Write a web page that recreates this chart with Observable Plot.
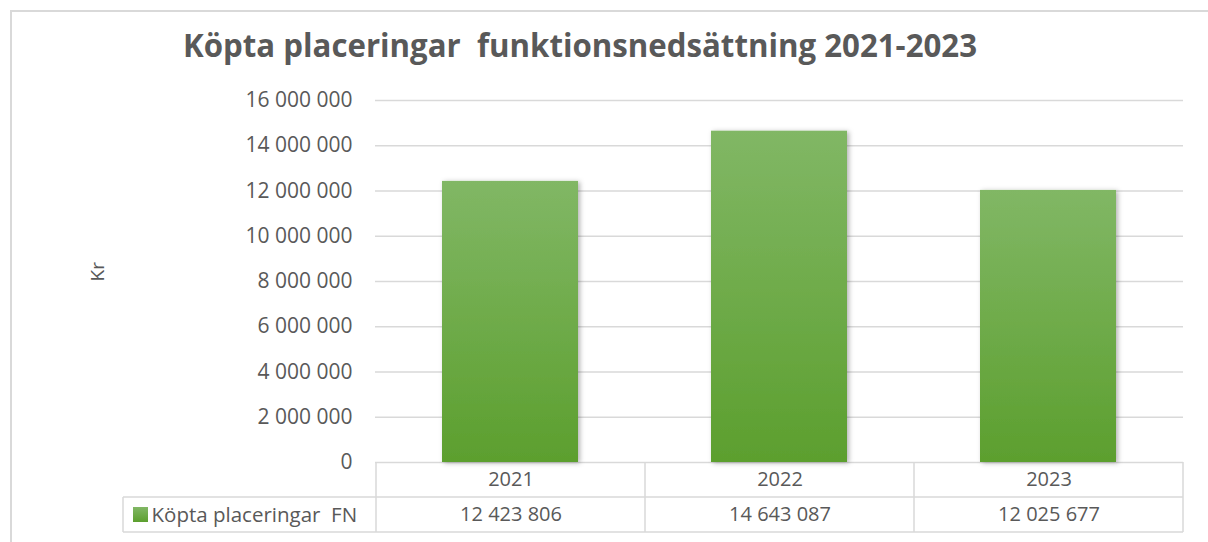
<!DOCTYPE html>
<html>
<head>
<meta charset="utf-8">
<script src="https://cdn.jsdelivr.net/npm/d3@7"></script>
<script src="https://cdn.jsdelivr.net/npm/@observablehq/plot@0.6"></script>
<style>
  html, body { margin: 0; padding: 0; background: #fff; }
  #chart { width: 1208px; height: 542px; overflow: hidden; }
</style>
</head>
<body>
<div id="chart"></div>
<script>
const title = "Köpta placeringar  funktionsnedsättning 2021-2023";
const yLabel = "Kr";
const seriesName = "Köpta placeringar  FN";
const years = ["2021", "2022", "2023"];
const values = [12423806, 14643087, 12025677];
const yTicks = [0, 2000000, 4000000, 6000000, 8000000, 10000000, 12000000, 14000000, 16000000];

const data = years.map((year, i) => ({year, value: values[i]}));
const fmt = d => d3.format(",")(d).replace(/,/g, " ");
const textColor = "#595959";
const lineColor = "#d9d9d9";

const defs = () => {
  const g = d3.create("svg:defs");
  const lg = g.append("linearGradient").attr("id", "barGrad").attr("x1", 0).attr("y1", 0).attr("x2", 0).attr("y2", 1);
  lg.append("stop").attr("offset", "0%").attr("stop-color", "#81b765");
  lg.append("stop").attr("offset", "100%").attr("stop-color", "#5c9f2e");
  const f = g.append("filter").attr("id", "barShadow").attr("x", "-20%").attr("y", "-10%").attr("width", "140%").attr("height", "120%");
  f.append("feDropShadow").attr("dx", 2).attr("dy", 1).attr("stdDeviation", 2.5).attr("flood-color", "#000").attr("flood-opacity", 0.3);
  return g.node();
};

const chart = Plot.plot({
  width: 1208,
  height: 542,
  marginLeft: 375,
  marginRight: 25,
  marginTop: 100,
  marginBottom: 80,
  style: {fontFamily: "'Open Sans', sans-serif", fontSize: "21px", color: textColor, background: "white", overflow: "visible"},
  x: {domain: years, padding: 0, axis: null},
  y: {domain: [0, 16000000], ticks: yTicks, tickFormat: fmt, tickSize: 0, tickPadding: 23, label: null},
  marks: [
    defs,
    Plot.ruleY(yTicks, {stroke: lineColor, strokeWidth: 1.5}),
    Plot.barY(data, {x: "year", y: "value", fill: "url(#barGrad)", insetLeft: 66, insetRight: 67}),
    Plot.text(data, {x: "year", text: "year", frameAnchor: "bottom", dy: 17.5, lineAnchor: "middle", fontSize: 20, fill: textColor}),
    Plot.text(data, {x: "year", text: d => fmt(d.value), frameAnchor: "bottom", dy: 52.5, lineAnchor: "middle", fontSize: 20, fill: textColor}),
    Plot.text([seriesName], {frameAnchor: "bottom-left", dx: -224, dy: 52.5, textAnchor: "start", lineAnchor: "middle", fontSize: 20.5, fill: textColor}),
    Plot.text([yLabel], {frameAnchor: "left", dx: -278, rotate: -90, fontSize: 19, fill: textColor})
  ]
});

document.getElementById("chart").appendChild(chart);

const svg = d3.select(chart);
svg.selectAll("g[aria-label='bar'] rect").attr("filter", "url(#barShadow)");

// outer frame
svg.insert("path", ":first-child")
  .attr("d", "M11,542V11H1208")
  .attr("fill", "none").attr("stroke", lineColor).attr("stroke-width", 2);

// title
svg.append("text")
  .attr("x", 580).attr("y", 57)
  .attr("text-anchor", "middle")
  .attr("font-family", "'Open Sans', sans-serif")
  .attr("font-weight", "bold")
  .attr("font-size", 32)
  .attr("fill", textColor)
  .attr("textLength", 794)
  .attr("lengthAdjust", "spacingAndGlyphs")
  .style("white-space", "pre")
  .text(title);

// data table grid from the x scale
const xs = chart.scale("x");
const [r0, r1] = xs.range;
const step = (r1 - r0) / years.length;
const bandLeft = y => (xs.apply ? xs.apply(y) : r0 + years.indexOf(y) * step);
const edges = years.map(bandLeft).concat([bandLeft(years[years.length - 1]) + (xs.bandwidth ?? step)]);
const rowTop = 462, rowMid = 497, rowBot = 532, tableLeft = 123;
const tg = svg.append("g").attr("stroke", lineColor).attr("stroke-width", 1.5).attr("fill", "none");
edges.forEach(e => tg.append("line").attr("x1", e).attr("x2", e).attr("y1", rowTop).attr("y2", rowBot));
tg.append("line").attr("x1", tableLeft).attr("x2", tableLeft).attr("y1", rowMid).attr("y2", rowBot);
tg.append("line").attr("x1", tableLeft).attr("x2", edges[edges.length - 1]).attr("y1", rowMid).attr("y2", rowMid);
tg.append("line").attr("x1", tableLeft).attr("x2", edges[edges.length - 1]).attr("y1", rowBot).attr("y2", rowBot);

// legend swatch
svg.append("rect").attr("x", 133).attr("y", 507).attr("width", 15).attr("height", 15)
  .attr("fill", "url(#barGrad)");
</script>
</body>
</html>
